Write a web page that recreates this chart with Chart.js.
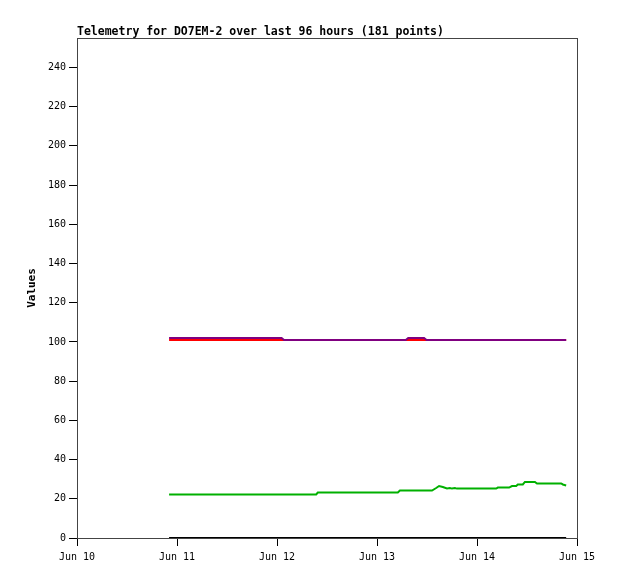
<!DOCTYPE html>
<html>
<head>
<meta charset="utf-8">
<script src="https://cdn.jsdelivr.net/npm/chart.js@4/dist/chart.umd.min.js"></script>
<style>
  body { margin: 0; background: #fff; }
  canvas { display: block; }
</style>
</head>
<body>
<canvas id="chart" width="618" height="579"></canvas>
<script>
// hours since Jun 10 00:00
const dayLabels = ["Jun 10", "Jun 11", "Jun 12", "Jun 13", "Jun 14", "Jun 15"];
const yTicks = [0, 20, 40, 60, 80, 100, 120, 140, 160, 180, 200, 220, 240];

const purpleHours = [22.1, 49.1, 49.7, 78.9, 79.5, 83.3, 83.9, 117.4];
const purpleValues = [102, 102, 101, 101, 102, 102, 101, 101];

const redHours = [22.1, 117.4];
const redValues = [101, 101];

const greenHours = [22.1, 57.4, 57.8, 77.0, 77.5, 85.2, 86.2, 86.9, 87.8, 88.8, 89.5, 90.0, 90.7, 91.2,
  100.6, 101.0, 103.7, 104.4, 105.4, 105.8, 107.0, 107.5, 109.9, 110.4, 116.2, 116.6, 117.4];
const greenValues = [22.2, 22.2, 23.2, 23.2, 24.2, 24.2, 25.5, 26.5, 26, 25.3, 25.5, 25.2, 25.5, 25.2,
  25.2, 25.7, 25.7, 26.5, 26.5, 27.3, 27.3, 28.6, 28.6, 27.8, 27.8, 27.3, 26.8];

const blackHours = [22.1, 117.4];
const blackValues = [0, 0];

const toPoints = (xs, ys) => xs.map((x, i) => ({ x, y: ys[i] }));

const mono = "'DejaVu Sans Mono', 'Liberation Mono', monospace";

// frame, title and axis title
const decor = {
  id: "decor",
  afterDraw(chart) {
    const { ctx, chartArea: a } = chart;
    ctx.save();
    ctx.strokeStyle = "#444";
    ctx.lineWidth = 1;
    ctx.strokeRect(a.left + 0.5, a.top + 0.5, a.right - a.left, a.bottom - a.top);
    ctx.fillStyle = "#000";
    ctx.font = "bold 11.5px " + mono;
    ctx.textBaseline = "alphabetic";
    ctx.textAlign = "left";
    ctx.fillText("Telemetry for DO7EM-2 over last 96 hours (181 points)", a.left, a.top - 3);
    ctx.translate(32, (a.top + a.bottom) / 2);
    ctx.rotate(-Math.PI / 2);
    ctx.textAlign = "center";
    ctx.textBaseline = "middle";
    ctx.font = "bold 11px " + mono;
    ctx.fillText("Values", 0, 0);
    ctx.restore();
  },
};

const line = (data, color) => ({
  data,
  borderColor: color,
  backgroundColor: color,
  borderWidth: 2,
  pointRadius: 0,
  tension: 0,
  fill: false,
});

new Chart(document.getElementById("chart"), {
  type: "line",
  data: {
    datasets: [
      line(toPoints(purpleHours, purpleValues), "#800080"),
      line(toPoints(redHours, redValues), "#ff0000"),
      line(toPoints(greenHours, greenValues), "#00b000"),
      line(toPoints(blackHours, blackValues), "#000000"),
    ],
  },
  options: {
    responsive: false,
    animation: false,
    layout: { padding: { top: 38, right: 41, left: 0, bottom: 0 } },
    plugins: { legend: { display: false }, tooltip: { enabled: false } },
    scales: {
      x: {
        type: "linear",
        min: 0,
        max: 120,
        afterFit: (scale) => { scale.height = 41; },
        afterBuildTicks: (scale) => { scale.ticks = dayLabels.map((_, i) => ({ value: i * 24 })); },
        border: { display: true, color: "#444" },
        grid: { drawOnChartArea: false, drawTicks: true, tickLength: 8, color: "#000" },
        ticks: {
          padding: 5,
          maxRotation: 0,
          autoSkip: false,
          color: "#000",
          font: { family: mono, size: 10 },
          callback: (v) => dayLabels[Math.round(v / 24)],
        },
      },
      y: {
        min: 0,
        max: 255,
        afterFit: (scale) => { scale.width = 77; },
        afterBuildTicks: (scale) => { scale.ticks = yTicks.map((v) => ({ value: v })); },
        border: { display: true, color: "#444" },
        grid: { drawOnChartArea: false, drawTicks: true, tickLength: 8, color: "#000" },
        ticks: {
          padding: 3,
          color: "#000",
          font: { family: mono, size: 10 },
          callback: (v) => String(v),
        },
      },
    },
  },
  plugins: [decor],
});
</script>
</body>
</html>
